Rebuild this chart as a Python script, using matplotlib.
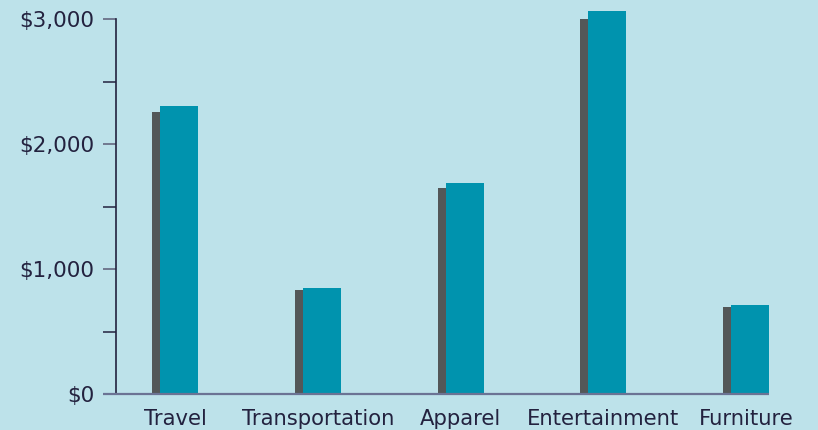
import matplotlib
matplotlib.use("Agg")
import matplotlib.pyplot as plt
from matplotlib.ticker import FixedLocator, FuncFormatter

categories = ["Travel", "Transportation", "Apparel", "Entertainment", "Furniture"]
series_back = [2255, 830, 1650, 3000, 695]
series_front = [2305, 848, 1690, 3065, 712]
y_major = [0, 1000, 2000, 3000]
y_minor = [500, 1500, 2500]

BG = "#bde2ea"
TEAL = "#0093ae"
GRAY = "#535758"
NAVY = "#23223f"

fig = plt.figure(figsize=(8.18, 4.30), dpi=100, facecolor=BG)
ax = fig.add_axes([116 / 818, 36 / 430, (818 - 116) / 818, 394 / 430])
ax.set_facecolor(BG)

unit = 142.75
w = 38 / unit
x = list(range(len(categories)))
back_c = [i + (171 - 175) / unit for i in x]
front_c = [i + (179 - 175) / unit for i in x]
ax.bar(back_c, series_back, width=w, color=GRAY, zorder=2)
ax.bar(front_c, series_front, width=w, color=TEAL, zorder=3)

ax.set_xlim(-59 / unit, (818 - 175) / unit)
ax.set_ylim(0, 3000 + 19 / 125 * 1000)

for s in ["top", "right", "bottom"]:
    ax.spines[s].set_visible(False)
ax.spines["left"].set_bounds(0, 3000)
ax.spines["left"].set_color(NAVY)
ax.spines["left"].set_linewidth(1.2)

# baseline
ax.plot([-72 / unit, 4 + (198 - 175) / unit], [0, 0], color="#6b7394",
        lw=1.6, clip_on=False, zorder=4, solid_capstyle="butt")

ax.yaxis.set_major_locator(FixedLocator(y_major))
ax.yaxis.set_minor_locator(FixedLocator(y_minor))
ax.yaxis.set_major_formatter(FuncFormatter(lambda v, p: f"${v:,.0f}"))
ax.tick_params(axis="y", which="major", length=9.4, width=1.3, color="#6b7088",
               labelsize=15.5, labelcolor=NAVY, pad=6)
ax.tick_params(axis="y", which="minor", length=9.4, width=1.1, color=NAVY)

ax.set_xticks(x)
ax.set_xticklabels(categories)
ax.tick_params(axis="x", length=0, labelsize=15.2, labelcolor=NAVY, pad=11)

for lab in ax.get_xticklabels() + ax.get_yticklabels():
    lab.set_family(["DejaVu Sans"])

fig.savefig("out.png", dpi=100, facecolor=BG)
